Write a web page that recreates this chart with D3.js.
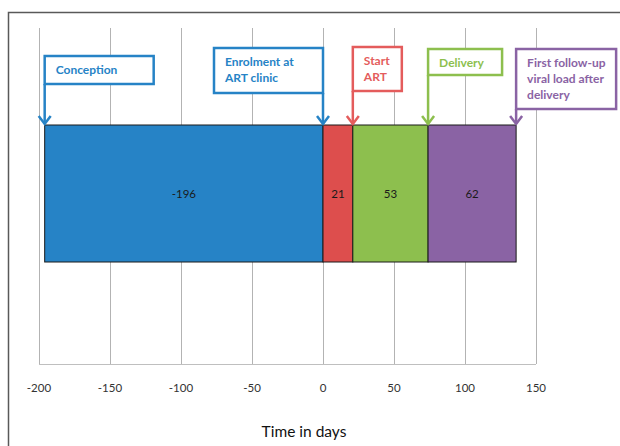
<!DOCTYPE html>
<html>
<head>
<meta charset="utf-8">
<script src="https://cdn.jsdelivr.net/npm/d3@7"></script>
<style>
  body { margin: 0; background: #fff; }
  svg { font-family: Lato, "Open Sans", sans-serif; }
</style>
</head>
<body>
<svg width="620" height="446"></svg>
<script>
// segment lengths (days), drawn as one stacked bar starting at conception
const segValues = [-196, 21, 53, 62]
const segColors = ['#2683C6', '#DD4E4D', '#8DBF4E', '#8A63A4']
const xTicks = [-200, -150, -100, -50, 0, 50, 100, 150]

// events at the segment edges
const eventLines = [
  ['Conception'],
  ['Enrolment at', 'ART clinic'],
  ['Start', 'ART'],
  ['Delivery'],
  ['First follow-up', 'viral load after', 'delivery']
]
const eventColors = ['#2683C6', '#2683C6', '#E45C5C', '#8DBF4E', '#8A63A4']

const svg = d3.select('svg')

const x = d3.scaleLinear()
  .domain([-200, 150]) // Data input range
  .range([39, 536])

const gridTop = 28, axisY = 364
const barTop = 125, barBottom = 262

// chart frame (runs off the right and bottom edges)
svg.append('rect')
  .attr('x', 8.5).attr('y', 12.5)
  .attr('width', 700).attr('height', 600)
  .attr('fill', 'none')
  .attr('stroke', '#595959')
  .attr('stroke-width', 1.5)

// gridlines
svg.selectAll('line.grid')
  .data(xTicks)
  .enter()
  .append('line')
  .attr('class', 'grid')
  .attr('x1', d => x(d) + 0.5).attr('x2', d => x(d) + 0.5)
  .attr('y1', gridTop).attr('y2', axisY)
  .attr('stroke', '#B3B3B3')

// axis line
svg.append('line')
  .attr('x1', x(-200)).attr('x2', x(150))
  .attr('y1', axisY + 0.5).attr('y2', axisY + 0.5)
  .attr('stroke', '#BFBFBF')

svg.selectAll('text.tick')
  .data(xTicks)
  .enter()
  .append('text')
  .attr('class', 'tick')
  .attr('x', d => x(d))
  .attr('y', 392)
  .attr('text-anchor', 'middle')
  .attr('font-size', 11.5)
  .attr('fill', '#333')
  .text(d => d)

svg.append('text')
  .attr('x', 304).attr('y', 437)
  .attr('text-anchor', 'middle')
  .attr('font-size', 15.5)
  .attr('fill', '#111')
  .text('Time in days')

// stacked segments: first goes back from 0, the rest run forward
let segs = []
let pos = 0
segValues.forEach((v, i) => {
  if (v < 0) segs.push({ v, x0: v, x1: 0, c: segColors[i] })
  else { segs.push({ v, x0: pos, x1: pos + v, c: segColors[i] }); pos += v }
})

const groups = svg.selectAll('g.seg')
  .data(segs)
  .enter()
  .append('g')
  .attr('class', 'seg')

groups.append('rect')
  .attr('x', d => x(d.x0))
  .attr('y', barTop)
  .attr('width', d => x(d.x1) - x(d.x0))
  .attr('height', barBottom - barTop)
  .attr('fill', d => d.c)
  .attr('stroke', '#1a1a1a')
  .attr('stroke-width', 1)

groups.append('text')
  .attr('x', d => (x(d.x0) + x(d.x1)) / 2)
  .attr('y', (barTop + barBottom) / 2 + 4)
  .attr('text-anchor', 'middle')
  .attr('font-size', 11.5)
  .attr('fill', '#1a1a1a')
  .text(d => d.v)

// callouts
const eventDays = [segs[0].x0, 0].concat(segs.slice(1).map(d => d.x1))
// box layout: [width, top, height, side of the leader line]
const boxLayout = [
  [109, 56, 28, 'left'],
  [109, 48, 45, 'right'],
  [49, 47, 44, 'left'],
  [74, 49, 26, 'left'],
  [100, 49, 60, 'left']
]

eventDays.forEach((day, i) => {
  const [w, by, h, side] = boxLayout[i]
  const ax = x(day)
  const bx = side === 'left' ? ax : ax - w
  const col = eventColors[i]
  const g = svg.append('g')

  g.append('rect')
    .attr('x', bx).attr('y', by)
    .attr('width', w).attr('height', h)
    .attr('fill', '#fff')
    .attr('stroke', col)
    .attr('stroke-width', 2.5)

  g.append('line')
    .attr('x1', ax).attr('x2', ax)
    .attr('y1', by + h).attr('y2', barTop - 1)
    .attr('stroke', col)
    .attr('stroke-width', 2.5)

  g.append('path')
    .attr('d', `M${ax - 6},${barTop - 9} L${ax},${barTop - 1} L${ax + 6},${barTop - 9}`)
    .attr('fill', 'none')
    .attr('stroke', col)
    .attr('stroke-width', 2.5)

  eventLines[i].forEach((t, j) => {
    g.append('text')
      .attr('x', bx + 11)
      .attr('y', by + 18 + j * 16)
      .attr('font-size', 12)
      .attr('font-weight', 'bold')
      .attr('fill', col)
      .text(t)
  })
})
</script>
</body>
</html>
